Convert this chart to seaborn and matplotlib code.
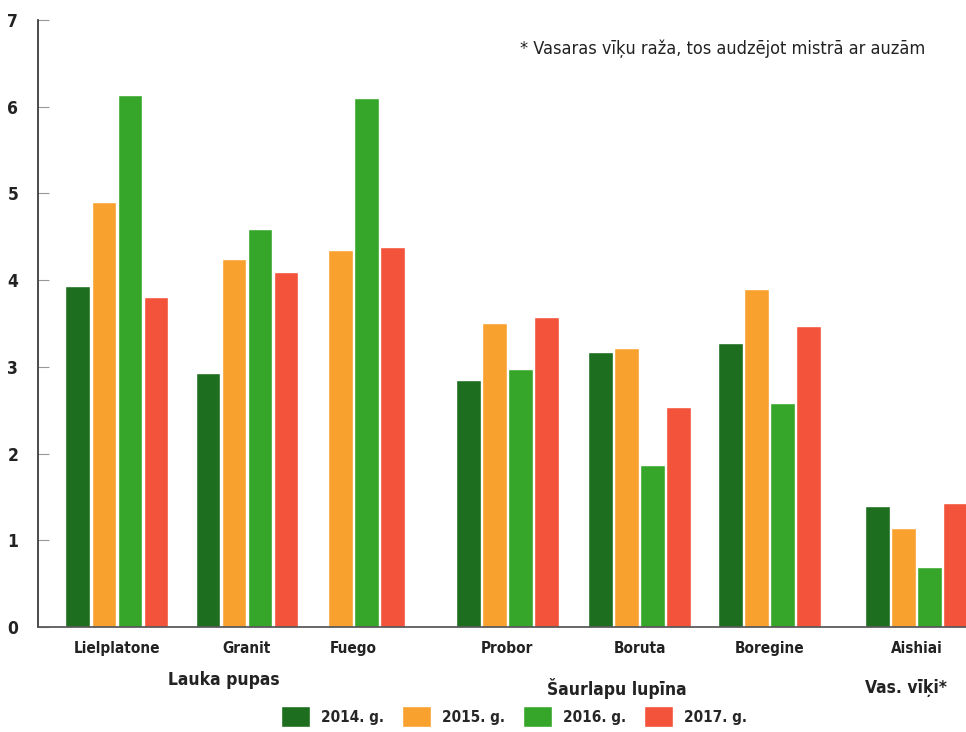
import numpy as np
import pandas as pd
import seaborn as sns
import matplotlib.pyplot as plt

sns.set_theme(style="white")
plt.rcParams["font.family"] = ["DejaVu Sans"]
plt.rcParams["font.stretch"] = "condensed"

# data (t/ha)
varieties = ["Lielplatone", "Granit", "Fuego", "Probor", "Boruta", "Boregine", "Aishiai"]
years = ["2014. g.", "2015. g.", "2016. g.", "2017. g."]
y2014 = [3.93, 2.93, np.nan, 2.85, 3.17, 3.28, 1.40]
y2015 = [4.90, 4.24, 4.35, 3.51, 3.22, 3.90, 1.14]
y2016 = [6.14, 4.59, 6.10, 2.98, 1.87, 2.58, 0.69]
y2017 = [3.80, 4.09, 4.38, 3.58, 2.54, 3.47, 1.43]
groups = ["Lauka pupas", "Šaurlapu lupīna", "Vas. vīķi*"]
note = "* Vasaras vīķu raža, tos audzējot mistrā ar auzām"

# layout: group centres along x (Fuego sits a bit closer to Granit)
xpos = [0, 1, 1.82, 3, 4.02, 5.02, 6.15]
colors = ["#1d6e1f", "#f9a12e", "#36a62a", "#f2533a"]

rows = []
for yr, vals in zip(years, [y2014, y2015, y2016, y2017]):
    for v, p, x in zip(varieties, xpos, vals):
        rows.append({"variety": v, "pos": p, "year": yr, "value": x})
df = pd.DataFrame(rows)

fig = plt.figure(figsize=(9.66, 7.32), dpi=100)
ax = fig.add_axes([0.039, 0.1434, 0.961, 0.8293])
w = 0.8 / np.diff(sorted(xpos)).min()
sns.barplot(data=df, x="pos", y="value", hue="year", hue_order=years,
            palette=colors, native_scale=True, width=w, gap=0.04,
            ax=ax, legend=True, saturation=1)

ax.set_ylim(0, 7)
ax.set_xlim(-0.61, 6.53)
ax.set_yticks(range(0, 8))
ax.set_xticks(xpos, labels=varieties)
ax.set(xlabel="", ylabel="")
sns.despine(ax=ax, top=True, right=True)
ax.spines["left"].set_color("#333333")
ax.spines["bottom"].set_color("#555555")
ax.tick_params(axis="y", direction="in", length=8, width=0.8, color="#999999",
               pad=14, labelsize=12.5, left=True)
ax.tick_params(axis="x", length=0, pad=10, labelsize=11)
for t in ax.get_yticklabels() + ax.get_xticklabels():
    t.set_fontweight("bold")
    t.set_color("#222222")

handles, labels = ax.get_legend_handles_labels()
ax.get_legend().remove()
fig.legend(handles, labels, loc="center", bbox_to_anchor=(0.532, 0.021), ncol=4,
           frameon=False, handlelength=1.9, handleheight=1.7, columnspacing=1.2,
           handletextpad=0.7, prop={"size": 11, "weight": "bold"})

fig.text(0.232, 0.071, groups[0], ha="center", va="center", fontsize=12.5, fontweight="bold", color="#222222")
fig.text(0.639, 0.060, groups[1], ha="center", va="center", fontsize=12.5, fontweight="bold", color="#222222")
fig.text(0.938, 0.060, groups[2], ha="center", va="center", fontsize=12.5, fontweight="bold", color="#222222")
fig.text(0.538, 0.934, note, ha="left", va="center", fontsize=13, color="#222222")

fig.savefig("out.png", dpi=100)
